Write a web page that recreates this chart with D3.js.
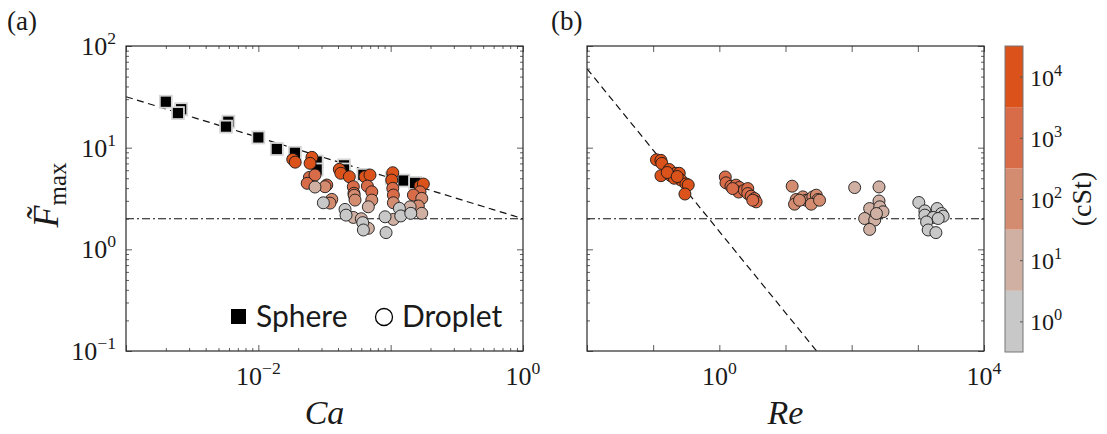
<!DOCTYPE html>
<html>
<head>
<meta charset="utf-8">
<script src="https://cdn.jsdelivr.net/npm/d3@7"></script>
<style>
  body { margin: 0; background: #fff; }
  text { fill: #1a1a1a; }
</style>
</head>
<body>
<svg id="fig" width="1107" height="434"></svg>
<script>
// ---- data ----
// viscosity classes (cSt), one array per class below
const viscosity = [1e4, 1e3, 1e2, 1e1, 1e0];

// panel (a): spheres
const sphereCa = [0.00200, 0.00261, 0.00247, 0.00593, 0.00570, 0.0100, 0.0138, 0.0189, 0.0276, 0.0276, 0.0444, 0.0444, 0.0622, 0.102, 0.125, 0.153];
const sphereF  = [28.3, 23.9, 21.9, 18.0, 16.1, 12.6, 9.7, 8.9, 7.3, 6.1, 6.7, 6.1, 5.4, 5.0, 4.75, 4.5];

// panel (a): droplets, Ca and F per viscosity class
const dropCa = [
  [0.0182, 0.0190, 0.0254, 0.0246, 0.0409, 0.042, 0.0487, 0.0640, 0.0698, 0.1037, 0.1019, 0.1667, 0.1766],
  [0.0243, 0.0268, 0.0234, 0.0329, 0.0522, 0.0528, 0.0667, 0.0720, 0.1037, 0.1048, 0.1667, 0.1486],
  [0.0319, 0.0359, 0.0348, 0.0530, 0.0538, 0.0720, 0.1048, 0.1718, 0.1618],
  [0.0268, 0.0522, 0.0678, 0.0600, 0.0678, 0.1048, 0.1403, 0.1718],
  [0.0310, 0.0452, 0.0460, 0.0615, 0.0622, 0.0923, 0.0907, 0.1164, 0.1192, 0.1419]
];
const dropFa = [
  [7.67, 7.2, 8.03, 7.01, 6.12, 5.6, 5.18, 5.18, 5.38, 5.67, 4.80, 4.19, 4.39],
  [5.10, 5.38, 4.46, 4.29, 4.13, 3.56, 4.19, 3.68, 3.98, 3.42, 3.68, 3.42],
  [4.13, 3.10, 2.85, 3.4, 3.05, 3.05, 2.87, 3.17, 2.67],
  [4.10, 2.06, 1.61, 2.0, 2.62, 1.97, 2.62, 2.26],
  [2.87, 2.47, 2.17, 1.83, 1.55, 1.46, 2.09, 2.53, 2.13, 2.26]
];

// panel (b): droplets, Re and F per viscosity class
const dropRe = [
  [0.112, 0.131, 0.135, 0.175, 0.131, 0.185, 0.221, 0.248, 0.263, 0.313, 0.339, 0.302, 0.208, 0.163, 0.231],
  [1.23, 1.26, 1.50, 1.79, 2.01, 1.96, 2.39, 2.69, 2.69, 3.02, 3.39, 3.60, 3.20, 1.59],
  [12.6, 14.5, 13.7, 18.3, 20.6, 23.1, 25.9, 29.2, 30.9, 24.5, 16.3, 32.7],
  [111, 259, 259, 187, 266, 298, 157, 223, 187, 237],
  [1035, 1277, 1277, 1959, 2286, 1706, 1355, 1432, 1875, 2415, 2032]
];
const dropFb = [
  [7.6, 7.5, 7.0, 6.1, 5.3, 5.3, 5.6, 5.6, 4.8, 4.4, 4.3, 3.5, 5.0, 5.7, 5.2],
  [5.15, 4.51, 4.18, 4.28, 4.06, 3.66, 3.81, 3.96, 3.54, 3.33, 3.16, 2.93, 3.04, 3.96],
  [4.18, 3.09, 2.78, 3.28, 3.04, 3.09, 3.28, 3.41, 3.09, 2.78, 3.04, 3.04],
  [4.05, 4.11, 2.99, 2.52, 2.62, 2.34, 2.01, 1.94, 1.57, 2.25],
  [2.89, 2.39, 2.17, 2.52, 2.25, 2.06, 1.86, 1.55, 1.46, 2.12, 2.01]
];

// reference lines: F = c * x^k and the plateau F = 2
const caFit = { c: 2, k: -0.4 };
const reFit = { c: 1.5, k: -0.8 };
const plateau = 2;

// colour bar
const cbDecades = [0, 1, 2, 3, 4];
const cbColors = ["#c8c8c8", "#cfb0a2", "#d48c70", "#d86b48", "#dc521b"];

// ---- drawing ----
const svg = d3.select("#fig");
const serif = "'Liberation Serif', 'DejaVu Serif', serif";
const sans = "Lato, 'Open Sans', sans-serif";
const tickFont = 26;
const dotR = 6;

const y = d3.scaleLog().domain([0.1, 100]).range([351, 46]);
const xa = d3.scaleLog().domain([1e-3, 1]).range([126, 523]);
const xb = d3.scaleLog().domain([1e-2, 1e4]).range([587, 984]);

const color = d3.scaleThreshold()
  .domain([10 ** 0.5, 10 ** 1.5, 10 ** 2.5, 10 ** 3.5])
  .range(cbColors);

const decades = (lo, hi) => d3.range(lo, hi + 1).map(k => 10 ** k);
const minors = (lo, hi) => d3.range(lo, hi).flatMap(k => d3.range(2, 10).map(m => m * 10 ** k));

function powLabel(g, x, yy, exp, anchor, size) {
  const t = g.append("text")
    .attr("x", x).attr("y", yy)
    .attr("text-anchor", anchor)
    .style("font-family", serif)
    .style("font-size", size + "px");
  t.append("tspan").text("10");
  t.append("tspan")
    .attr("dy", -size * 0.42)
    .style("font-size", (size * 0.68) + "px")
    .text(exp < 0 ? "\u2212" + (-exp) : exp);
}

function drawFrame(g, x, xMajor, xMinor) {
  const [x0, x1] = x.range();
  const [y0, y1] = y.range();
  const yMajor = decades(-1, 2), yMinor = minors(-1, 2);
  const sets = [
    [d3.axisBottom, x, `translate(0,${y0})`, xMajor, xMinor],
    [d3.axisTop, x, `translate(0,${y1})`, xMajor, xMinor],
    [d3.axisLeft, y, `translate(${x0},0)`, yMajor, yMinor],
    [d3.axisRight, y, `translate(${x1},0)`, yMajor, yMinor]
  ];
  sets.forEach(([mk, sc, tr, major, minor]) => {
    [[major, -6], [minor, -3]].forEach(([vals, len]) => {
      if (!vals.length) return;
      g.append("g")
        .attr("transform", tr)
        .attr("color", "#333")
        .call(mk(sc).tickValues(vals).tickSize(len).tickFormat(""))
        .call(a => a.select(".domain").remove())
        .selectAll("line").attr("stroke-width", 0.8);
    });
  });
  g.append("rect")
    .attr("x", x0).attr("y", y1)
    .attr("width", x1 - x0).attr("height", y0 - y1)
    .attr("fill", "none").attr("stroke", "#2b2b2b").attr("stroke-width", 1.2);
}

function clipFor(id, x) {
  const [x0, x1] = x.range();
  const [y0, y1] = y.range();
  svg.append("clipPath").attr("id", id)
    .append("rect").attr("x", x0).attr("y", y1).attr("width", x1 - x0).attr("height", y0 - y1);
  return `url(#${id})`;
}

function refLines(g, x, fit) {
  const dom = x.domain();
  const line = d3.line().x(d => x(d[0])).y(d => y(d[1]));
  const xs = d3.range(0, 41).map(i => dom[0] * (dom[1] / dom[0]) ** (i / 40));
  g.append("path")
    .attr("d", line(xs.map(v => [v, fit.c * v ** fit.k]).filter(d => d[1] > 0.05)))
    .attr("fill", "none").attr("stroke", "#111").attr("stroke-width", 1.2)
    .attr("stroke-dasharray", "7,4.5");
  g.append("path")
    .attr("d", line(dom.map(v => [v, plateau])))
    .attr("fill", "none").attr("stroke", "#111").attr("stroke-width", 1.2)
    .attr("stroke-dasharray", "8,3,2,3");
}

function droplets(g, x, xs, fs) {
  xs.forEach((arr, i) => {
    g.append("g").selectAll("circle")
      .data(arr.map((v, j) => [v, fs[i][j]]))
      .join("circle")
      .attr("cx", d => x(d[0])).attr("cy", d => y(d[1]))
      .attr("r", dotR)
      .attr("fill", color(viscosity[i]))
      .attr("stroke", "#1a1a1a").attr("stroke-width", 0.9);
  });
}

// panel (a)
const ga = svg.append("g");
const pa = ga.append("g").attr("clip-path", clipFor("clipA", xa));
refLines(pa, xa, caFit);
pa.append("g").selectAll("rect")
  .data(sphereCa.map((v, i) => [v, sphereF[i]]))
  .join("rect")
  .attr("x", d => xa(d[0]) - 6).attr("y", d => y(d[1]) - 6)
  .attr("width", 12).attr("height", 12)
  .attr("fill", "#000").attr("stroke", "#d6d6d6").attr("stroke-width", 1.8);
droplets(pa, xa, dropCa, dropFa);
drawFrame(ga, xa, decades(-3, 0), minors(-3, 0));

[-2, 0].forEach(k => powLabel(ga, xa(10 ** k), 385, k, "middle", tickFont));
[-1, 0, 1, 2].forEach(k => powLabel(ga, 116, y(10 ** k) + 9, k, "end", tickFont));

// legend
ga.append("rect").attr("x", 231).attr("y", 309).attr("width", 15).attr("height", 15).attr("fill", "#000");
ga.append("text").attr("x", 256).attr("y", 327)
  .style("font-family", sans).style("font-size", "30px").text("Sphere");
ga.append("circle").attr("cx", 384).attr("cy", 317).attr("r", 8.5)
  .attr("fill", "#fff").attr("stroke", "#000").attr("stroke-width", 1.3);
ga.append("text").attr("x", 402).attr("y", 327)
  .style("font-family", sans).style("font-size", "30px").text("Droplet");

// panel (b)
const gb = svg.append("g");
const pb = gb.append("g").attr("clip-path", clipFor("clipB", xb));
refLines(pb, xb, reFit);
droplets(pb, xb, dropRe, dropFb);
drawFrame(gb, xb, decades(-2, 4), []);
[0, 4].forEach(k => powLabel(gb, xb(10 ** k), 385, k, "middle", tickFont));

// axis labels
svg.append("text").attr("x", 324.5).attr("y", 424).attr("text-anchor", "middle")
  .style("font-family", serif).style("font-style", "italic").style("font-size", "34px").text("Ca");
svg.append("text").attr("x", 785.5).attr("y", 424).attr("text-anchor", "middle")
  .style("font-family", serif).style("font-style", "italic").style("font-size", "34px").text("Re");

const yl = svg.append("text")
  .attr("transform", "translate(58,195) rotate(-90)")
  .attr("text-anchor", "middle")
  .style("font-family", serif).style("font-size", "36px");
yl.append("tspan").style("font-style", "italic").text("F\u0303");
yl.append("tspan").attr("dy", 8).style("font-size", "25px").text("max");

svg.append("text").attr("x", 7).attr("y", 30)
  .style("font-family", serif).style("font-size", "27px").text("(a)");
svg.append("text").attr("x", 551).attr("y", 30)
  .style("font-family", serif).style("font-size", "27px").text("(b)");

// colour bar
const cb = d3.scaleLog().domain([10 ** -0.5, 10 ** 4.5]).range([352, 46]);
const gc = svg.append("g");
gc.selectAll("rect.band")
  .data(cbDecades)
  .join("rect").attr("class", "band")
  .attr("x", 1005).attr("width", 18)
  .attr("y", d => cb(10 ** (d + 0.5)))
  .attr("height", d => cb(10 ** (d - 0.5)) - cb(10 ** (d + 0.5)))
  .attr("fill", (d, i) => cbColors[i]);
gc.append("g")
  .attr("transform", "translate(1023,0)")
  .attr("color", "#555")
  .call(d3.axisRight(cb).tickValues(cbDecades.map(d => 10 ** d)).tickSize(-3).tickFormat(""))
  .call(a => a.select(".domain").remove());
gc.append("rect").attr("x", 1005).attr("y", 46).attr("width", 18).attr("height", 306)
  .attr("fill", "none").attr("stroke", "#777").attr("stroke-width", 1);
cbDecades.forEach(d => powLabel(gc, 1030, cb(10 ** d) + 9, d, "start", 24));
svg.append("text")
  .attr("transform", "translate(1091,199) rotate(-90)")
  .attr("text-anchor", "middle")
  .style("font-family", serif).style("font-size", "28px").text("(cSt)");
</script>
</body>
</html>
